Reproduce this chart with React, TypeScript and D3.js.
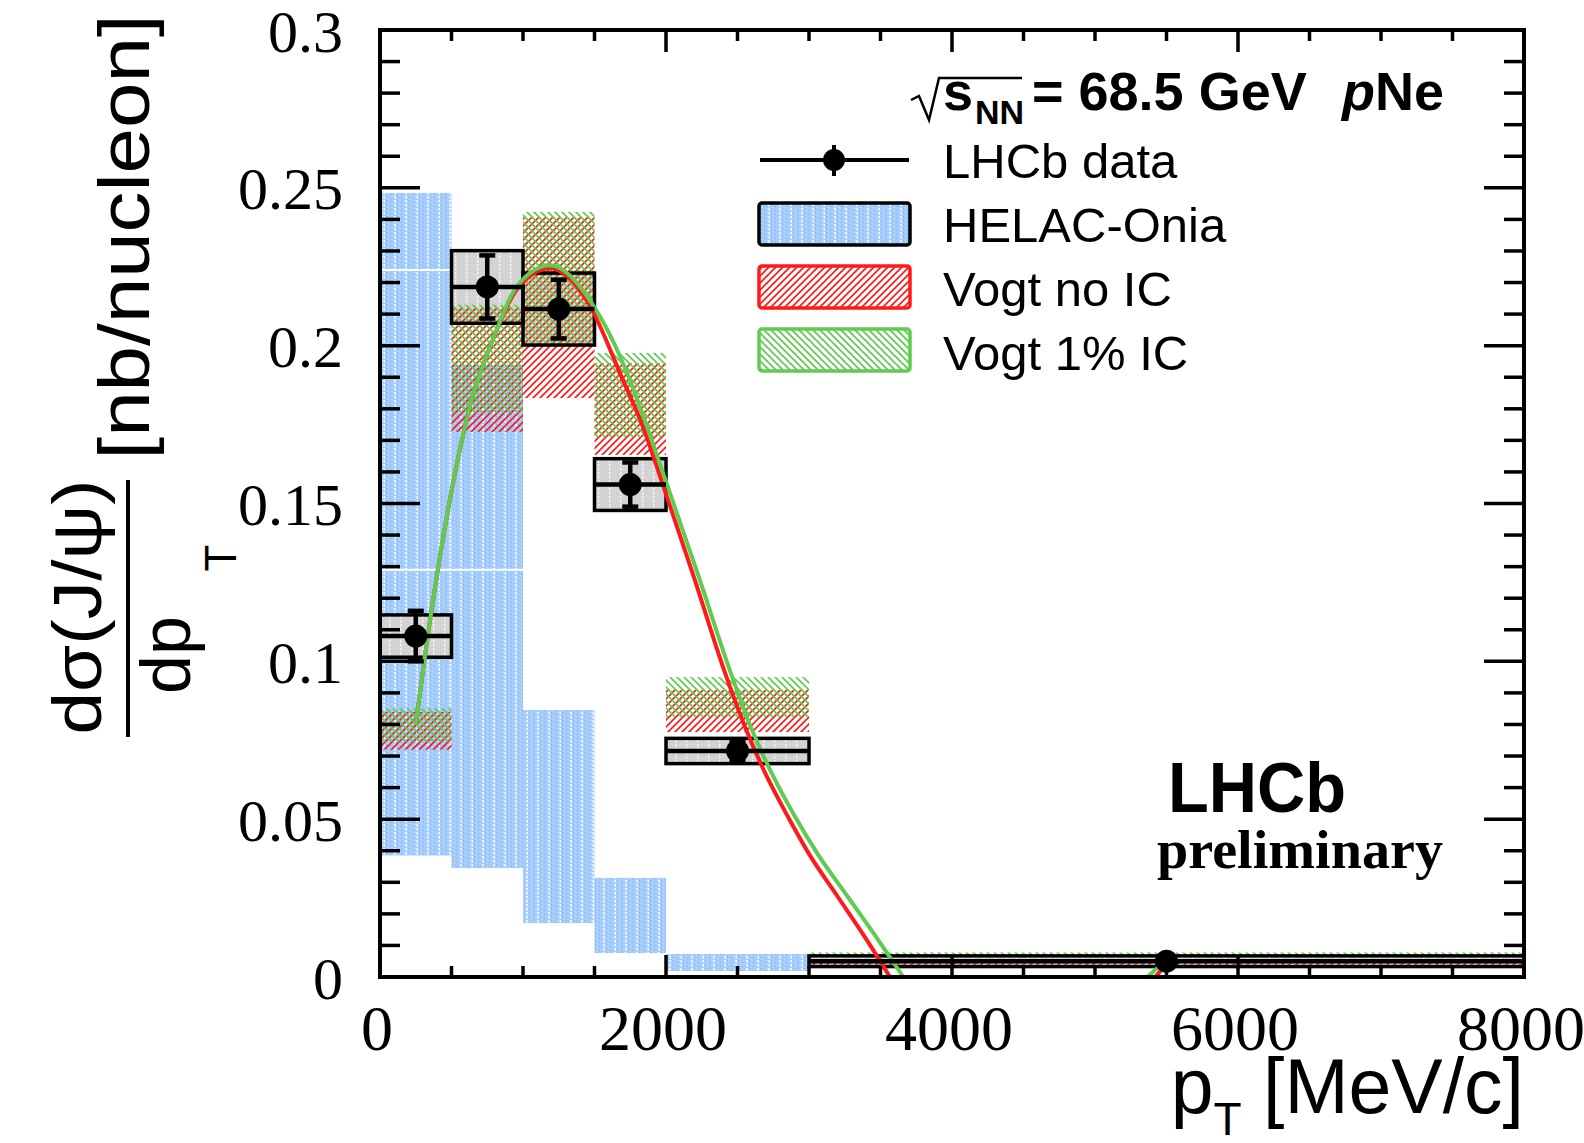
import React from "react";
import * as d3 from "d3";

// frame of the plot in page pixels
const W = 1584;
const H = 1143;
const frame = { left: 380, right: 1524, top: 30, bottom: 977 };

// pT bins and LHCb data
const binEdges = [0, 500, 1000, 1500, 2000, 3000, 8000];
const dataPt = [250, 750, 1250, 1750, 2500, 5500];
const dataVal = [0.108, 0.2186, 0.2116, 0.156, 0.0716, 0.005];
const dataStat = [0.008, 0.01, 0.0093, 0.007, 0.003, 0.001];
const dataSyst = [0.0067, 0.0115, 0.0114, 0.0082, 0.004, 0.0017];

// HELAC-Onia band (first five bins)
const helacLo = [0.0385, 0.0345, 0.0171, 0.0076, 0.0019];
const helacHi = [0.2484, 0.194, 0.0846, 0.0314, 0.0073];
// white central lines inside the HELAC band: [from, to, value]
const helacLines = [
  [0, 500, 0.224],
  [0, 1000, 0.129],
];

// Vogt bands per bin
const vogtNoLo = [0.072, 0.1727, 0.1834, 0.1654, 0.0776, 0.0036];
const vogtNoHi = [0.084, 0.212, 0.2407, 0.1945, 0.0909, 0.0046];
const vogtIcLo = [0.0745, 0.1787, 0.2, 0.171, 0.0824, 0.0068];
const vogtIcHi = [0.0852, 0.213, 0.2424, 0.1977, 0.095, 0.0078];

// Vogt curves: [pT, value]
const vogtNoCurve = [
  [250, 0.08], [350, 0.113], [480, 0.149], [630, 0.181], [790, 0.202],
  [960, 0.218], [1190, 0.2245], [1450, 0.214], [1700, 0.189], [1820, 0.1765],
  [2000, 0.153], [2200, 0.126], [2400, 0.098], [2550, 0.0795], [2700, 0.064],
  [2850, 0.051], [3000, 0.039], [3200, 0.0255], [3400, 0.012], [3566, 0],
];
const vogtIcCurve = [
  [250, 0.08], [350, 0.113], [480, 0.149], [630, 0.181], [790, 0.202],
  [960, 0.219], [1190, 0.2255], [1480, 0.2135], [1740, 0.19], [1850, 0.1765],
  [2030, 0.153], [2235, 0.126], [2440, 0.098], [2590, 0.0795], [2745, 0.064],
  [2900, 0.051], [3060, 0.039], [3270, 0.0255], [3480, 0.012], [3660, 0],
];
const vogtNoTail = [[5420, 0], [5500, 0.004]];
const vogtIcTail = [[5366, 0], [5500, 0.0055]];

const yTickLabels = ["0", "0.05", "0.1", "0.15", "0.2", "0.25", "0.3"];
const xTickLabels = ["0", "2000", "4000", "6000", "8000"];

const legendLabels = ["LHCb data", "HELAC-Onia", "Vogt no IC", "Vogt 1% IC"];

const RED = "#ff1a1a";
const GREEN = "#5fcb4f";
const SANS = "'Liberation Sans', Arial, Helvetica, sans-serif";
const SERIF = "'Liberation Serif', 'Times New Roman', serif";

const x = d3.scaleLinear().domain([0, 8000]).range([frame.left, frame.right]);
const y = d3.scaleLinear().domain([0, 0.3]).range([frame.bottom, frame.top]);

const curve = d3
  .line<number[]>()
  .x((d) => x(d[0]))
  .y((d) => y(d[1]))
  .curve(d3.curveMonotoneX);

function Band({ lo, hi, fill }: { lo: number[]; hi: number[]; fill: string }) {
  return (
    <g>
      {lo.map((l, i) => (
        <rect
          key={i}
          x={x(binEdges[i])}
          width={x(binEdges[i + 1]) - x(binEdges[i])}
          y={y(hi[i])}
          height={Math.max(1.5, y(l) - y(hi[i]))}
          fill={fill}
        />
      ))}
    </g>
  );
}

export default function App() {
  const yMinor = d3.range(0, 31).map((i) => i * 0.01);
  const xMinor = d3.range(0, 17).map((i) => i * 500);

  return (
    <svg
      width={W}
      height={H}
      style={{ position: "absolute", left: 0, top: 0, background: "#fff" }}
    >
      <defs>
        <pattern id="helac" width="11" height="4" patternUnits="userSpaceOnUse">
          <rect width="11" height="4" fill="#a3cbfb" />
          <rect x="1" y="0" width="1" height="1" fill="#7fb4f4" />
          <rect x="5" y="2" width="1" height="1" fill="#7fb4f4" />
          <rect x="8" y="0" width="1" height="1" fill="#c4defd" />
          <rect x="3" y="3" width="1" height="1" fill="#c4defd" />
          <rect x="9.5" y="0" width="1.4" height="2.6" fill="#ffffff" />
        </pattern>
        <pattern id="grey" width="11" height="4" patternUnits="userSpaceOnUse">
          <rect width="11" height="4" fill="#d3d3d3" />
          <rect x="4" y="0" width="1.4" height="2.6" fill="#f4f4f4" />
        </pattern>
        <pattern id="redHatch" width="7" height="7" patternUnits="userSpaceOnUse">
          <path d="M0,7 L7,0 M-1,1 L1,-1 M6,8 L8,6" stroke={RED} strokeWidth="1.7" />
        </pattern>
        <pattern id="greenHatch" width="7" height="7" patternUnits="userSpaceOnUse">
          <path d="M0,0 L7,7 M-1,6 L1,8 M6,-1 L8,1" stroke={GREEN} strokeWidth="1.7" />
        </pattern>
        <clipPath id="plotArea">
          <rect
            x={frame.left}
            y={frame.top}
            width={frame.right - frame.left}
            height={frame.bottom - frame.top}
          />
        </clipPath>
      </defs>

      <g clipPath="url(#plotArea)">
        {/* HELAC-Onia */}
        <Band lo={helacLo} hi={helacHi} fill="url(#helac)" />
        {helacLines.map((d, i) => (
          <line
            key={i}
            x1={x(d[0])}
            x2={x(d[1])}
            y1={y(d[2])}
            y2={y(d[2])}
            stroke="#fff"
            strokeWidth={2}
          />
        ))}

        {/* systematic boxes of the data */}
        {dataVal.map((v, i) => (
          <rect
            key={i}
            x={x(binEdges[i])}
            width={x(binEdges[i + 1]) - x(binEdges[i])}
            y={y(v + dataSyst[i])}
            height={y(v - dataSyst[i]) - y(v + dataSyst[i])}
            fill="url(#grey)"
          />
        ))}

        {/* Vogt bands */}
        <Band lo={vogtNoLo} hi={vogtNoHi} fill="url(#redHatch)" />
        <Band lo={vogtIcLo} hi={vogtIcHi} fill="url(#greenHatch)" />

        {dataVal.map((v, i) => (
          <rect
            key={i}
            x={x(binEdges[i])}
            width={x(binEdges[i + 1]) - x(binEdges[i])}
            y={y(v + dataSyst[i])}
            height={y(v - dataSyst[i]) - y(v + dataSyst[i])}
            fill="none"
            stroke="#000"
            strokeWidth={3.5}
          />
        ))}

        {/* Vogt curves */}
        <path d={curve(vogtNoCurve) || ""} fill="none" stroke={RED} strokeWidth={4} />
        <path d={curve(vogtNoTail) || ""} fill="none" stroke={RED} strokeWidth={4} />
        <path d={curve(vogtIcCurve) || ""} fill="none" stroke={GREEN} strokeWidth={4} />
        <path d={curve(vogtIcTail) || ""} fill="none" stroke={GREEN} strokeWidth={4} />

        {/* data points */}
        {dataVal.map((v, i) => (
          <g key={i}>
            <line
              x1={x(binEdges[i])}
              x2={x(binEdges[i + 1])}
              y1={y(v)}
              y2={y(v)}
              stroke="#000"
              strokeWidth={4.5}
            />
            <line
              x1={x(dataPt[i])}
              x2={x(dataPt[i])}
              y1={y(v + dataStat[i])}
              y2={y(v - dataStat[i])}
              stroke="#000"
              strokeWidth={4.5}
            />
            {[v + dataStat[i], v - dataStat[i]].map((e, j) => (
              <line
                key={j}
                x1={x(dataPt[i]) - 8}
                x2={x(dataPt[i]) + 8}
                y1={y(e)}
                y2={y(e)}
                stroke="#000"
                strokeWidth={4.5}
              />
            ))}
            <circle cx={x(dataPt[i])} cy={y(v)} r={11.5} fill="#000" />
          </g>
        ))}
      </g>

      {/* frame and ticks */}
      <rect
        x={frame.left}
        y={frame.top}
        width={frame.right - frame.left}
        height={frame.bottom - frame.top}
        fill="none"
        stroke="#000"
        strokeWidth={4}
      />
      {yMinor.map((v, i) => {
        const len = i % 5 === 0 ? 40 : 20;
        return (
          <g key={i}>
            <line x1={frame.left} x2={frame.left + len} y1={y(v)} y2={y(v)} stroke="#000" strokeWidth={3.5} />
            <line x1={frame.right} x2={frame.right - len} y1={y(v)} y2={y(v)} stroke="#000" strokeWidth={3.5} />
          </g>
        );
      })}
      {xMinor.map((v, i) => {
        const len = i % 4 === 0 ? 22 : 11;
        return (
          <g key={i}>
            <line x1={x(v)} x2={x(v)} y1={frame.bottom} y2={frame.bottom - len} stroke="#000" strokeWidth={3.5} />
            <line x1={x(v)} x2={x(v)} y1={frame.top} y2={frame.top + len} stroke="#000" strokeWidth={3.5} />
          </g>
        );
      })}

      {/* tick labels */}
      {yTickLabels.map((t, i) => (
        <text
          key={t}
          x={343}
          y={y(i * 0.05)}
          dy="0.36em"
          textAnchor="end"
          fontFamily={SERIF}
          fontSize={60}
        >
          {t}
        </text>
      ))}
      {xTickLabels.map((t, i) => (
        <text
          key={t}
          x={x(i * 2000) - 3}
          y={1050}
          textAnchor="middle"
          fontFamily={SERIF}
          fontSize={64}
        >
          {t}
        </text>
      ))}

      {/* x title */}
      <text x={1524} y={1113} textAnchor="end" fontFamily={SANS} fontSize={77}>
        <tspan>p</tspan>
        <tspan fontSize={46} dy={22}>T</tspan>
        <tspan dy={-22}> [MeV/c]</tspan>
      </text>

      {/* y title */}
      <g transform="rotate(-90)" fontFamily={SANS}>
        <text x={-607} y={101} textAnchor="middle" fontSize={68} textLength={255} lengthAdjust="spacingAndGlyphs">
          dσ(J/ψ)
        </text>
        <line x1={-480} x2={-737} y1={128} y2={128} stroke="#000" strokeWidth={4} />
        <text x={-655} y={190} textAnchor="middle" fontSize={70}>
          dp
        </text>
        <text x={-558} y={236} textAnchor="middle" fontSize={44}>
          T
        </text>
        <text x={-237} y={149} textAnchor="middle" fontSize={72} textLength={445} lengthAdjust="spacingAndGlyphs">
          [nb/nucleon]
        </text>
      </g>

      {/* header */}
      <path d="M911,100 L919,96 L929,120 L939,78 L1022,78" fill="none" stroke="#000" strokeWidth={2.5} />
      <text fontFamily={SANS} fontWeight="bold" fontSize={54} y={110}>
        <tspan x={943}>s</tspan>
        <tspan x={975} y={124} fontSize={34}>NN</tspan>
        <tspan x={1032} y={110}>= 68.5 GeV</tspan>
        <tspan x={1342} fontStyle="italic">p</tspan>
        <tspan>Ne</tspan>
      </text>

      {/* legend */}
      <g fontFamily={SANS} fontSize={49}>
        <line x1={760} x2={909} y1={160} y2={160} stroke="#000" strokeWidth={4} />
        <line x1={834} x2={834} y1={145} y2={176} stroke="#000" strokeWidth={4} />
        <circle cx={834} cy={160} r={11} fill="#000" />
        <rect x={759} y={203} width={151} height={42} rx={3} fill="url(#helac)" stroke="#000" strokeWidth={3.5} />
        <rect x={759} y={266} width={151} height={42} rx={3} fill="url(#redHatch)" stroke={RED} strokeWidth={3.5} />
        <rect x={759} y={329} width={151} height={42} rx={3} fill="url(#greenHatch)" stroke={GREEN} strokeWidth={3.5} />
        {legendLabels.map((l, i) => (
          <text key={l} x={943} y={160 + i * 64} dy="0.36em">
            {l}
          </text>
        ))}
      </g>

      {/* LHCb preliminary */}
      <text x={1168} y={812} fontFamily={SANS} fontWeight="bold" fontSize={70} textLength={178} lengthAdjust="spacingAndGlyphs">
        LHCb
      </text>
      <text x={1157} y={868} fontFamily={SERIF} fontWeight="bold" fontSize={54} textLength={286} lengthAdjust="spacingAndGlyphs">
        preliminary
      </text>
    </svg>
  );
}
